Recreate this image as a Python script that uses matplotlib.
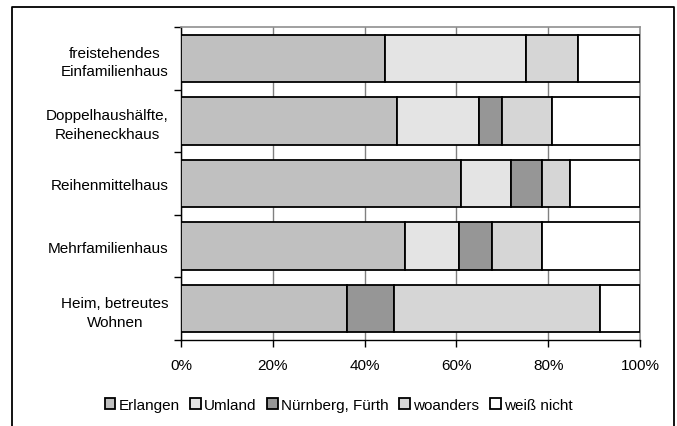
import numpy as np
import matplotlib
matplotlib.use("Agg")
import matplotlib.pyplot as plt
from matplotlib.lines import Line2D

plt.rcParams['font.family'] = ['Liberation Sans', 'DejaVu Sans']

# =========================
# Data (percent of each row)
# =========================
categories = ["freistehendes\nEinfamilienhaus",
              "Doppelhaushälfte,\nReiheneckhaus",
              "Reihenmittelhaus",
              "Mehrfamilienhaus",
              "Heim, betreutes\nWohnen"]
series_names = ["Erlangen", "Umland", "Nürnberg, Fürth", "woanders", "weiß nicht"]
erlangen = [44.4, 47.1, 61.1, 48.9, 36.2]
umland = [30.7, 17.9, 10.9, 11.7, 0.0]
nuernberg = [0.0, 4.9, 6.6, 7.2, 10.1]
woanders = [11.3, 10.9, 6.1, 10.8, 45.0]
weiss_nicht = [13.6, 19.2, 15.3, 21.4, 8.7]
x_ticks = [0, 20, 40, 60, 80, 100]

colors = ["#c0c0c0", "#e4e4e4", "#969696", "#d6d6d6", "#ffffff"]
FS = 11

fig = plt.figure(figsize=(6.77, 4.27), dpi=100)
ax = fig.add_axes([181 / 677, 1 - 341 / 427, 459 / 677, 313 / 427])

y = np.arange(len(categories))
left = np.zeros(len(categories))
for name, vals, col in zip(series_names,
                           [erlangen, umland, nuernberg, woanders, weiss_nicht],
                           colors):
    vals = np.array(vals)
    ax.barh(y, vals, left=left, height=0.76, color=col, edgecolor="black",
            linewidth=1.3, label=name, zorder=3)
    left += vals

ax.set_xlim(0, 100)
ax.set_ylim(len(categories) - 0.5, -0.5)

ax.set_xticks(x_ticks)
ax.set_xticklabels([f"{t}%" for t in x_ticks], fontsize=FS)
ax.xaxis.grid(True, color="#808080", linewidth=1.0, zorder=0)
ax.tick_params(axis="x", length=5, width=1, direction="out", pad=8)

ax.set_yticks(y)
ax.set_yticklabels(categories, fontsize=FS, multialignment="center", linespacing=1.4)
ax.tick_params(axis="y", which="major", length=0, pad=9)
ax.set_yticks(np.arange(-0.5, len(categories)), minor=True)
ax.tick_params(axis="y", which="minor", length=5, width=1, direction="out")

for s in ["top", "right"]:
    ax.spines[s].set_color("#909090")
    ax.spines[s].set_linewidth(1.2)
for s in ["left", "bottom"]:
    ax.spines[s].set_color("black")
    ax.spines[s].set_linewidth(1.0)
ax.set_axisbelow(True)

leg = fig.legend(loc="center", bbox_to_anchor=(0.5, 1 - 406 / 427), ncol=5,
                 frameon=False, fontsize=FS, handlelength=0.7, handleheight=0.7,
                 handletextpad=0.2, columnspacing=0.7)

# outer chart frame (bottom edge falls outside the picture)
x0, x1, y0 = 11.5 / 677, 673.5 / 677, 1 - 8 / 427
fig.add_artist(Line2D([x0, x0, x1, x1], [0, y0, y0, 0], color="black",
                      linewidth=1.3, transform=fig.transFigure))

fig.savefig("out.png", dpi=100)
